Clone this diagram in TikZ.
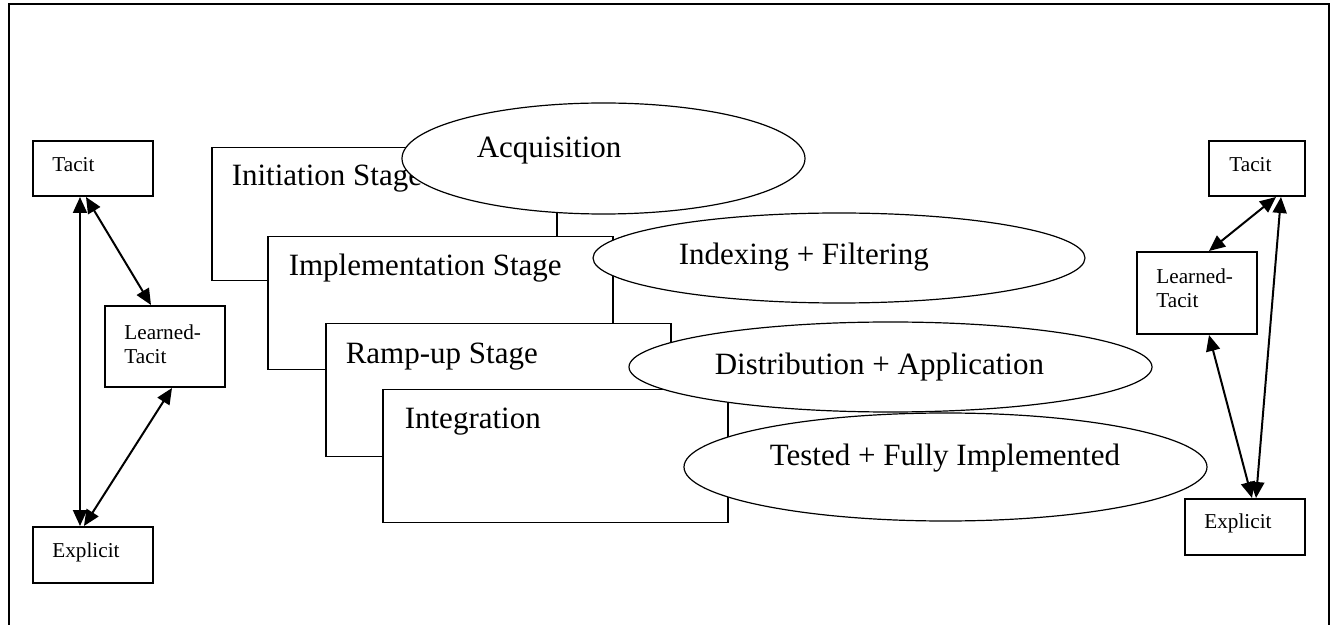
\documentclass[tikz,border=0pt]{standalone}
\usepackage{fontspec}
\setmainfont{Liberation Serif}
\usetikzlibrary{shapes.geometric,arrows.meta,calc}
\begin{document}
\begin{tikzpicture}[x=0.5pt,y=-0.5pt,
  smallbox/.style={draw, line width=1pt, fill=white, inner sep=0pt},
  smalltext/.style={anchor=west, inner sep=0pt, align=left, font=\fontsize{10.6}{12}\selectfont},
  stagebox/.style={draw, line width=0.6pt, fill=white, minimum width=172.5pt, minimum height=66.5pt, inner sep=0pt},
  stageell/.style={draw, ellipse, line width=0.6pt, fill=white, inner sep=0pt},
  bigtext/.style={anchor=west, inner sep=0pt, font=\fontsize{15.5}{18}\selectfont},
  dbl/.style={{Triangle[length=8pt,width=7pt]}-{Triangle[length=8pt,width=7pt]}, line width=1pt},
]
\useasboundingbox (0,0) rectangle (1333,625);
% frame
\coordinate (fbl) at (9,626);
\coordinate (ftl) at (9,4);
\coordinate (ftr) at (1329,4);
\coordinate (fbr) at (1329,626);
\draw[line width=1.25pt] (fbl) -- (ftl) -- (ftr) -- (fbr);

% left triangle
\node[smallbox, minimum width=60pt, minimum height=27.5pt] (tL) at (93,168.5) {};
\node[smalltext] (tLt) at ([shift={(20,-3.5)}]tL.west) {Tacit};
\node[smallbox, minimum width=60pt, minimum height=40.5pt] (lL) at (165,346.5) {};
\node[smalltext] (lLt) at ([shift={(20,-2.5)}]lL.west) {Learned-\\Tacit};
\node[smallbox, minimum width=60pt, minimum height=28pt] (eL) at (93,555) {};
\node[smalltext] (eLt) at ([shift={(20,-3)}]eL.west) {Explicit};
\draw[dbl] ([shift={(48,0)}]tL.south west) -- ([shift={(48,0)}]eL.north west);
\draw[dbl] ([shift={(54,0)}]tL.south west) -- ([shift={(47,0)}]lL.north west);
\draw[dbl] ([shift={(68,0)}]lL.south west) -- ([shift={(52,0)}]eL.north west);

% right triangle
\node[smallbox, minimum width=48pt, minimum height=27.5pt] (tR) at (1257,168.5) {};
\node[smalltext] (tRt) at ([shift={(21,-3.5)}]tR.west) {Tacit};
\node[smallbox, minimum width=60pt, minimum height=41pt] (lR) at (1197,293) {};
\node[smalltext] (lRt) at ([shift={(20,-4.5)}]lR.west) {Learned-\\Tacit};
\node[smallbox, minimum width=60pt, minimum height=28pt] (eR) at (1245,527) {};
\node[smalltext] (eRt) at ([shift={(20,-4)}]eR.west) {Explicit};
\draw[dbl] ([shift={(68,0)}]tR.south west) -- ([shift={(73,0)}]lR.north west);
\draw[dbl] ([shift={(73,0)}]tR.south west) -- ([shift={(72,0)}]eR.north west);
\draw[dbl] ([shift={(73,0)}]lR.south west) -- ([shift={(68,0)}]eR.north west);

% stages
\node[stagebox] (init) at (384.5,214) {};
\node[bigtext] (initT) at ([shift={(20,32)}]init.north west) {Initiation Stage};
\node[stageell, minimum width=201.5pt, minimum height=55.5pt] (acq) at (603.5,158.5) {};
\node[bigtext] (acqT) at ([shift={(75,-8)}]acq.west) {Acquisition};

\node[stagebox] (impl) at (440.5,303) {};
\node[bigtext] (implT) at ([shift={(21,32)}]impl.north west) {Implementation Stage};
\node[stageell, minimum width=246pt, minimum height=45pt] (idx) at (839,258) {};
\node[bigtext] (idxT) at ([shift={(86,-1)}]idx.west) {Indexing + Filtering};

\node[stagebox] (ramp) at (498.5,390) {};
\node[bigtext] (rampT) at ([shift={(20,34)}]ramp.north west) {Ramp-up Stage};

\node[stagebox] (integ) at (555.5,456) {};
\node[bigtext] (integT) at ([shift={(22,33)}]integ.north west) {Integration};

\node[stageell, minimum width=261.5pt, minimum height=45pt] (dist) at (890.5,367) {};
\node[bigtext] (distT) at ([shift={(86,0)}]dist.west) {Distribution + Application};

\node[stageell, minimum width=261.5pt, minimum height=54pt] (test) at (945.5,467) {};
\node[bigtext] (testT) at ([shift={(86,-9)}]test.west) {Tested + Fully Implemented};
\end{tikzpicture}
\end{document}
